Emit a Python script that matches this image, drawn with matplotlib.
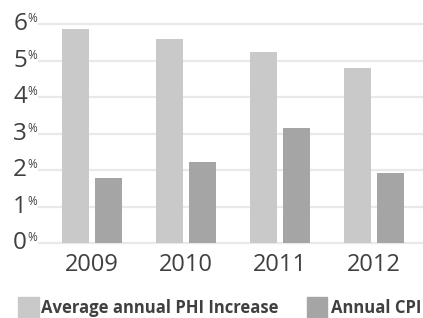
import matplotlib
matplotlib.use('Agg')
import matplotlib.pyplot as plt
import numpy as np
from matplotlib.patches import Rectangle

plt.rcParams['font.family'] = ['Open Sans', 'DejaVu Sans']

# 数据
years = ['2009', '2010', '2011', '2012']
phi_increase = [5.85, 5.60, 5.22, 4.80]
annual_cpi = [1.79, 2.21, 3.16, 1.91]
y_ticks = [0, 1, 2, 3, 4, 5, 6]
legend_labels = ['Average annual PHI Increase', 'Annual CPI']

LIGHT = '#c9c9c9'
DARK = '#a5a5a5'
TEXT = '#404040'
GRID = '#e9e9e9'

W, H = 423, 318
fig = plt.figure(figsize=(W / 100, H / 100), dpi=100)
ax = fig.add_axes([39 / W, 1 - 243 / H, (423 - 39) / W, (243 - 24) / H])

x = np.arange(len(years))
bw = 0.28
ax.bar(x - 0.175, phi_increase, width=bw, color=LIGHT, zorder=3)
ax.bar(x + 0.175, annual_cpi, width=bw, color=DARK, zorder=3)

ax.set_xlim(-0.564, 3.52)
ax.set_ylim(0, 6)
for v in y_ticks:
    ax.axhline(v, color=GRID, linewidth=1.6, zorder=1, clip_on=False)

for s in ax.spines.values():
    s.set_visible(False)
ax.set_yticks([])
ax.set_xticks(x)
ax.set_xticklabels(years, fontsize=17, color=TEXT)
ax.tick_params(axis='x', length=0, pad=7)

# y 轴标签: 数字 + 上标 %
for v in y_ticks:
    ax.annotate(str(v), xy=(0, v), xycoords=('axes fraction', 'data'),
                xytext=(-8.6, 0), textcoords='offset points',
                ha='right', va='center', fontsize=17.5, color=TEXT,
                annotation_clip=False)
    ax.annotate('%', xy=(0, v), xycoords=('axes fraction', 'data'),
                xytext=(-8.4, 3.8), textcoords='offset points',
                ha='left', va='center', fontsize=8.5, color=TEXT,
                annotation_clip=False)

# 图例
fig.patches.append(Rectangle((18 / W, 0), 21 / W, 21 / H,
                             transform=fig.transFigure, color=LIGHT))
fig.text(41 / W, 1 - 308 / H, legend_labels[0], fontsize=12, fontweight='bold',
         color=TEXT, va='center', ha='left')
fig.patches.append(Rectangle((307 / W, 0), 20 / W, 21 / H,
                             transform=fig.transFigure, color=DARK))
fig.text(331 / W, 1 - 308 / H, legend_labels[1], fontsize=12, fontweight='bold',
         color=TEXT, va='center', ha='left')

fig.savefig('out.png', dpi=100)
